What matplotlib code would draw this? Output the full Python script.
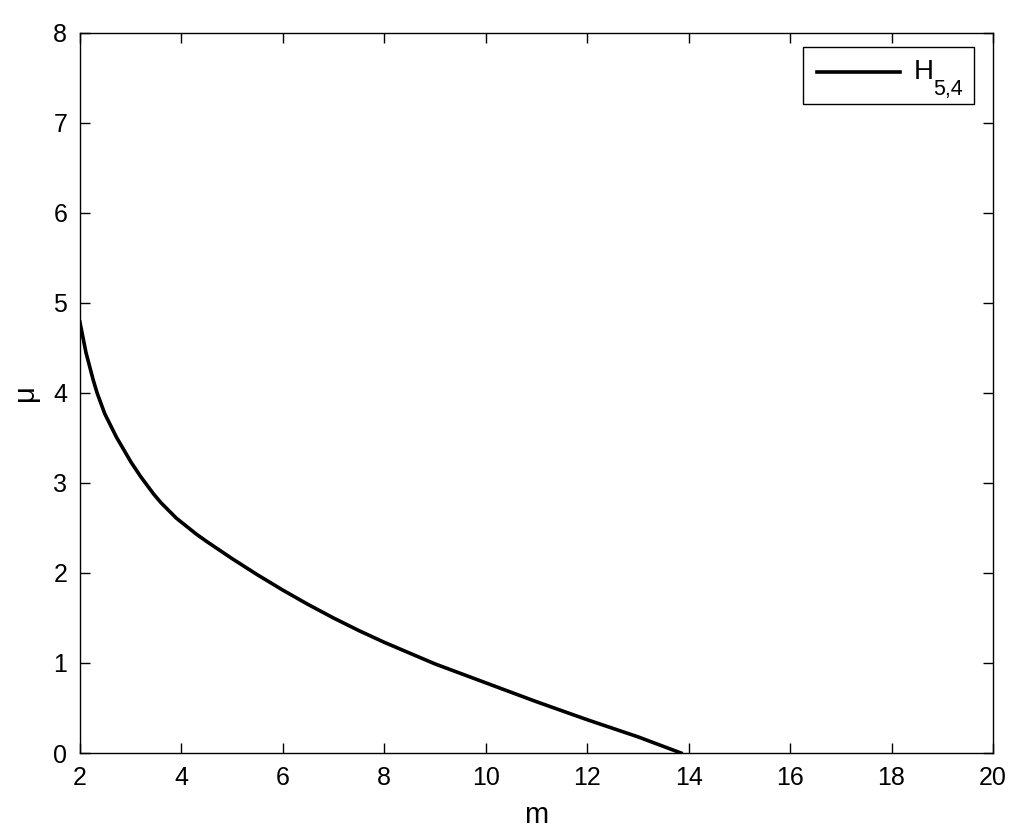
import matplotlib
matplotlib.use("Agg")
import matplotlib.pyplot as plt

# values
m = [2.0, 2.12, 2.26, 2.34, 2.49, 2.72, 3.01, 3.2, 3.45, 3.6, 3.9, 4.10,
     4.3, 4.5, 5.0, 5.5, 6.0, 6.5, 7.0, 7.5, 8.0, 9.0, 10.0, 11.0, 12.0,
     13.0, 13.85]
mu = [4.79, 4.45, 4.15, 4.0, 3.77, 3.51, 3.23, 3.07, 2.88, 2.78, 2.61, 2.52,
      2.43, 2.35, 2.16, 1.98, 1.81, 1.65, 1.50, 1.36, 1.23, 0.99, 0.78, 0.57,
      0.37, 0.18, 0.0]
xticks = list(range(2, 21, 2))
yticks = list(range(0, 9))

plt.rcParams['font.family'] = ['Liberation Sans', 'DejaVu Sans']
plt.rcParams['mathtext.fontset'] = 'custom'
plt.rcParams['mathtext.rm'] = 'Liberation Sans'
plt.rcParams['mathtext.it'] = 'Liberation Sans'

fig = plt.figure(figsize=(10.24, 8.39), dpi=100)
ax = fig.add_axes([0.078, 0.1025, 0.8917, 0.8582])
ax.plot(m, mu, color="black", lw=2.6, label=r"H$_{5{,}4}$")
ax.set_xlim(2, 20)
ax.set_ylim(0, 8)
ax.set_xticks(xticks)
ax.set_yticks(yticks)
ax.tick_params(direction="in", top=True, right=True, length=7, width=1,
               labelsize=18, pad=9)
for s in ax.spines.values():
    s.set_linewidth(1)
ax.set_xlabel("m", fontsize=21, labelpad=8)
ax.set_ylabel("\u03bc", fontsize=21, labelpad=10)

leg = ax.legend(loc="upper right", fontsize=20, fancybox=False, framealpha=1,
                edgecolor="black", handlelength=3.0, handletextpad=0.4,
                borderpad=0.5, borderaxespad=0,
                bbox_to_anchor=(974 / 1024, 1 - 47 / 839),
                bbox_transform=fig.transFigure)
leg.get_frame().set_linewidth(1)
# legend text redrawn by hand so the subscript sits low like the original
leg.get_texts()[0].set_alpha(0)
fig.canvas.draw()
frame = leg.get_frame()
ax.annotate("H", xy=(0, 0.5), xycoords=frame, xytext=(111, -3),
            textcoords="offset pixels", fontsize=20, va="baseline", zorder=6)
ax.annotate("5,4", xy=(0, 0.5), xycoords=frame, xytext=(130, -19),
            textcoords="offset pixels", fontsize=15.5, va="baseline", zorder=6)

fig.savefig("out.png", dpi=100)
